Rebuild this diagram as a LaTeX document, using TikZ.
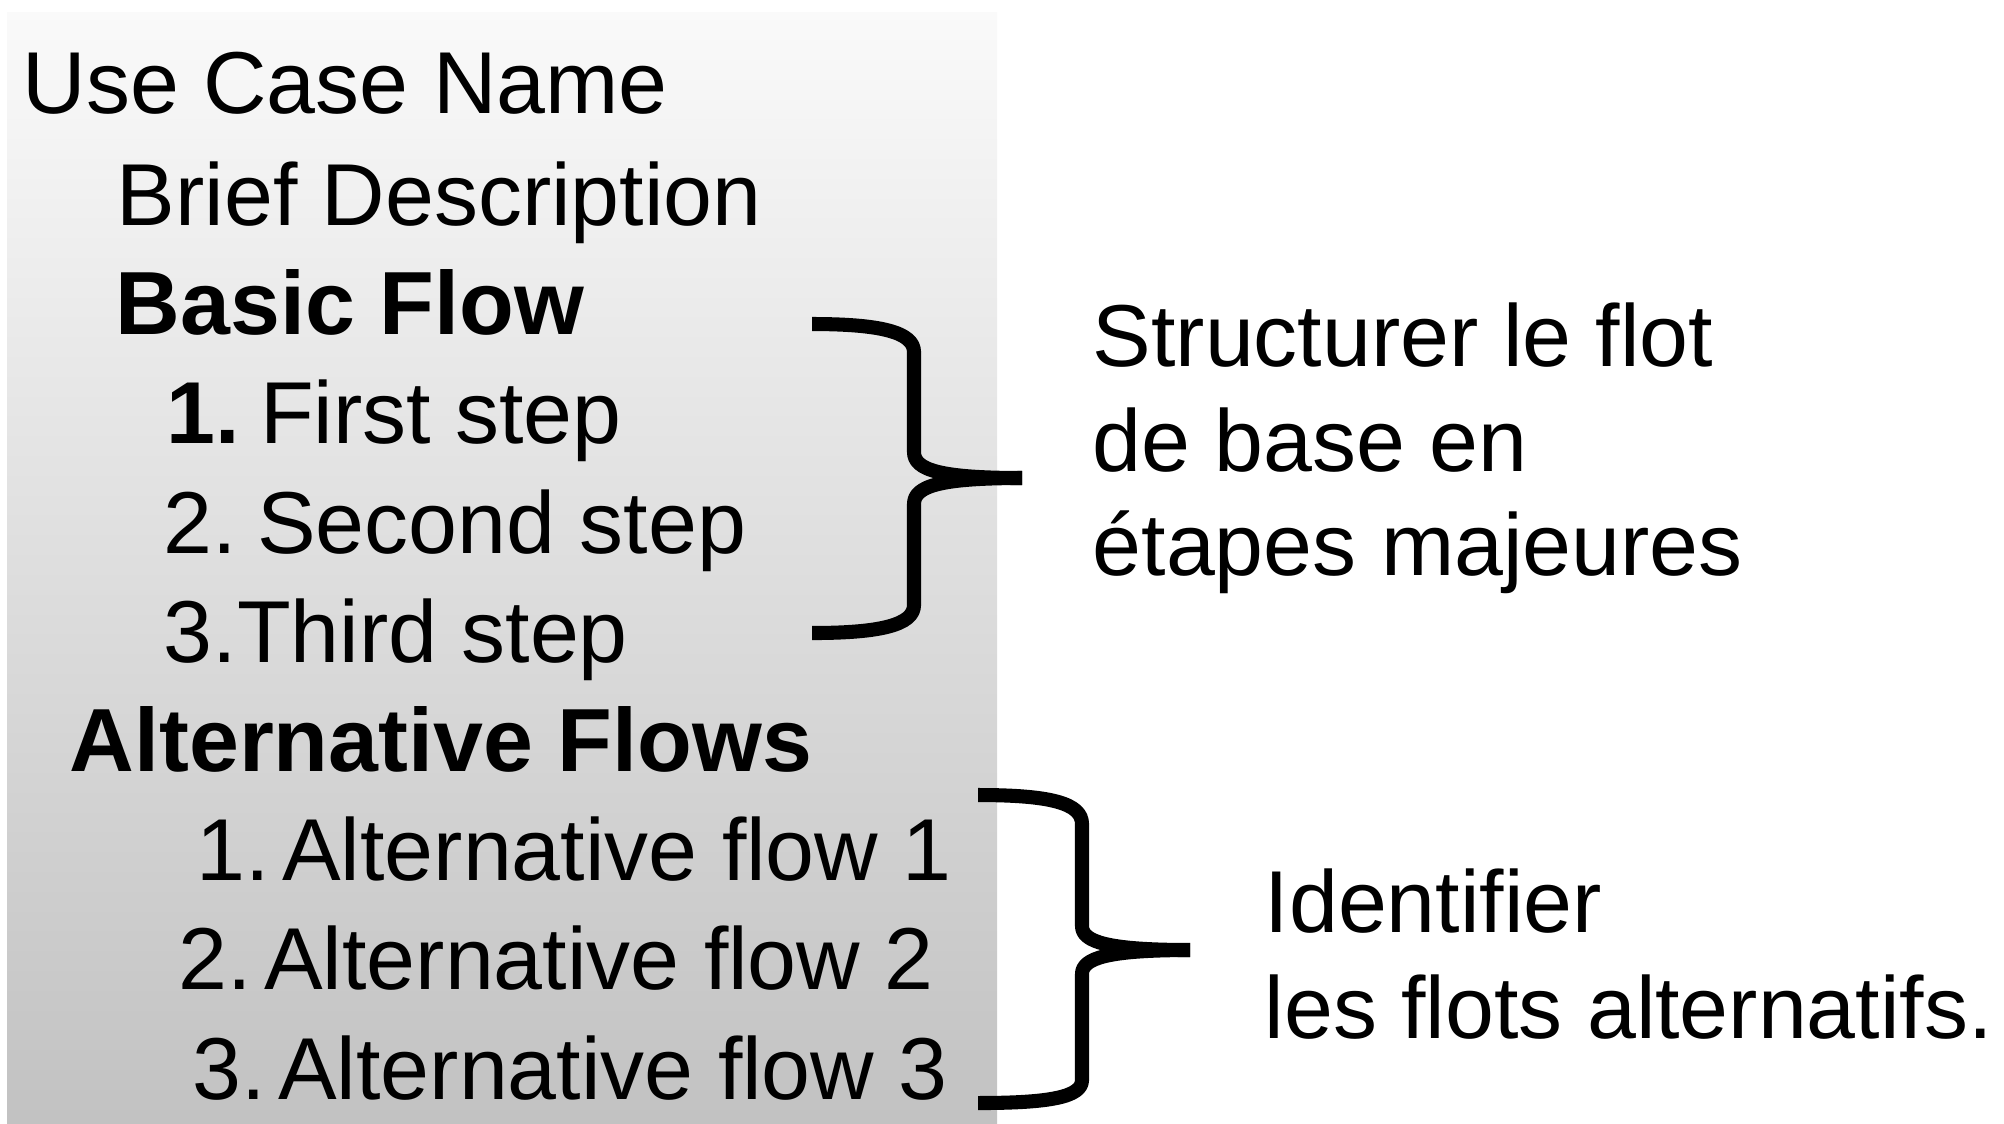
\documentclass[tikz,border=0pt]{standalone}
\usepackage{fontspec}
\setmainfont{Liberation Sans}
\tikzset{x=0.01cm, y=-0.01cm,
    every node/.style={
        inner sep=0pt,
        anchor=base west,
        font=\fontsize{25}{30}\selectfont},
    title/.style={
        font=\fontsize{25.5}{30}\selectfont\bfseries},
    bracestroke/.style={
        draw,
        line width=4pt,
        line join=round}}

\begin{document}
\begin{tikzpicture}
        \useasboundingbox (0,0) rectangle (2004,1123);
        \shade[top color=black!2, bottom color=black!24] (7,12) rectangle (997,1123);

        \node (name) at (22,113) {Use Case Name};
        \node (brief) at (116,225) {Brief Description};
        \node[title] (basic) at (115,334) {Basic Flow};
        \node (s1) at (166,443) {\textbf{1.}\hspace{0.23em}First step};
        \node (s2) at (163,553) {2.\hspace{0.23em}Second step};
        \node (s3) at (163,662) {3.Third step};
        \node[title] (alt) at (69,771) {Alternative Flows};
        \node (a1) at (196,880) {1.\hspace{0.14em}Alternative flow 1};
        \node (a2) at (178,989) {2.\hspace{0.14em}Alternative flow 2};
        \node (a3) at (192,1099) {3.\hspace{0.14em}Alternative flow 3};

        \node (r1) at (1092,366) {Structurer le flot};
        \node (r2) at (1092,471) {de base en};
        \node (r3) at (1092,575) {étapes majeures};
        \node (q1) at (1264,932) {Identifier};
        \node (q2) at (1264,1038) {les flots alternatifs.};

        \coordinate (tip1) at (1022,478);
        \coordinate (tip2) at (1190,950);

        \draw[bracestroke] (812,324) .. controls (880,324) and (914,332) .. (914,352)
            -- (914,452) .. controls (914,470) and (940,478) .. (tip1);
        \draw[bracestroke] (tip1) .. controls (940,478) and (914,486) .. (914,504)
            -- (914,605) .. controls (914,625) and (880,633) .. (812,633);
        \draw[bracestroke] (978,795) .. controls (1050,795) and (1082,803) .. (1082,824)
            -- (1082,926) .. controls (1082,942) and (1108,950) .. (tip2);
        \draw[bracestroke] (tip2) .. controls (1108,950) and (1082,958) .. (1082,974)
            -- (1082,1080) .. controls (1082,1097) and (1050,1103) .. (978,1103);
    \end{tikzpicture}
\end{document}
